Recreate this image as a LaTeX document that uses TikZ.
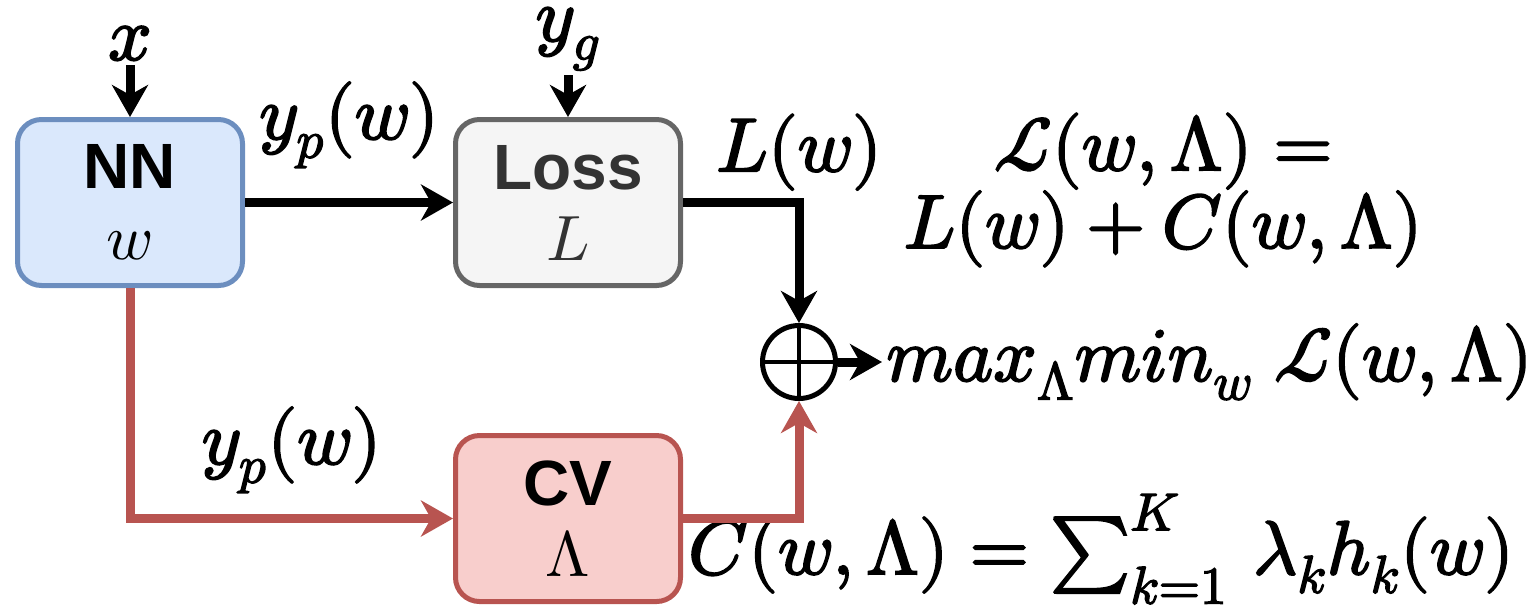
\documentclass[tikz,border=0pt]{standalone}
\usepackage{amsmath}
\usepackage{fontspec}
\usepackage{unicode-math}
\setsansfont{Liberation Sans}
\setmathfont{Latin Modern Math}
\setmathfont{Latin Modern Math}[version=heavy,FakeBold=2.6]
\usepackage{tikz}
\usetikzlibrary{positioning,arrows.meta}
\usepackage{xcolor}
\definecolor{NNBlue}{HTML}{DAE8FC}
\definecolor{NNBlueLine}{HTML}{6C8EBF}
\definecolor{LossGray}{HTML}{F5F5F5}
\definecolor{LossGrayLine}{HTML}{666666}
\definecolor{LossText}{HTML}{333333}
\definecolor{CVRed}{HTML}{F8CECC}
\definecolor{CVRedLine}{HTML}{B85450}

\begin{document}
\begin{tikzpicture}[
x=0.5pt,y=-0.5pt,
box/.style={
    rectangle,
    rounded corners=12pt,
    line width=2.5pt,
    minimum width=112.5pt,
    minimum height=83pt,
    align=center,
    inner sep=0pt,
    font=\fontsize{32}{35.5}\selectfont
},
lbl/.style={font=\fontsize{38}{35.5}\selectfont\mathversion{heavy},inner sep=2pt},
arrow/.style={-{Stealth[length=16pt,width=18pt,inset=5pt]},line width=4.5pt},
sumnode/.style={
    circle,
    draw,
    fill=white,
    line width=2.5pt,
    minimum size=36.5pt,
    inner sep=0pt,
    path picture={\draw[line width=1.8pt]
      (path picture bounding box.north) -- (path picture bounding box.south)
      (path picture bounding box.west) -- (path picture bounding box.east);}
}
]
\useasboundingbox (0,0) rectangle (1531,607);

% blocks
\node[box,draw=NNBlueLine,fill=NNBlue] (nn) at (130,202.5) {\textsf{\bfseries NN}\\$w$};
\node[box,draw=LossGrayLine,fill=LossGray,text=LossText,right=104pt of nn] (loss) {\textsf{\bfseries Loss}\\$L$};
\node[box,draw=CVRedLine,fill=CVRed,below=72.5pt of loss] (cv) {\textsf{\bfseries CV}\\$\Lambda$};
\node[sumnode] (sum) at (799,362) {};

% inputs
\node[lbl,above=26pt of nn] (xin) {$x$};
\node[lbl,above=21pt of loss] (yg) {$y_g$};

% outputs and formulas
\node[lbl,right=22pt of sum] (obj) {$max_\Lambda min_w\;\mathcal{L}(w,\Lambda)$};
\node[lbl,align=center] (lagr) at (1163,190) {$\mathcal{L}(w,\Lambda) =$\\$L(w) + C(w,\Lambda)$};
\node[lbl,anchor=base west] (cform) at (684,574) {$C(w,\Lambda) = \sum_{k=1}^{K}\,\lambda_k h_k(w)$};

\draw[arrow] (xin) -- (nn);
\draw[arrow] (yg) -- (loss);
\draw[arrow] (nn) -- node[lbl,above=13pt] {$y_p(w)$} (loss);
\draw[arrow] (loss.east) -| node[lbl,pos=0.5,above=2pt] {$L(w)$} (sum.north);
\draw[arrow,CVRedLine] (nn.south) |- node[lbl,pos=0.75,above=8.5pt,text=black] {$y_p(w)$} (cv.west);
\draw[arrow,CVRedLine] (cv.east) -| (sum.south);
\draw[arrow] (sum) -- (obj);

\end{tikzpicture}
\end{document}
